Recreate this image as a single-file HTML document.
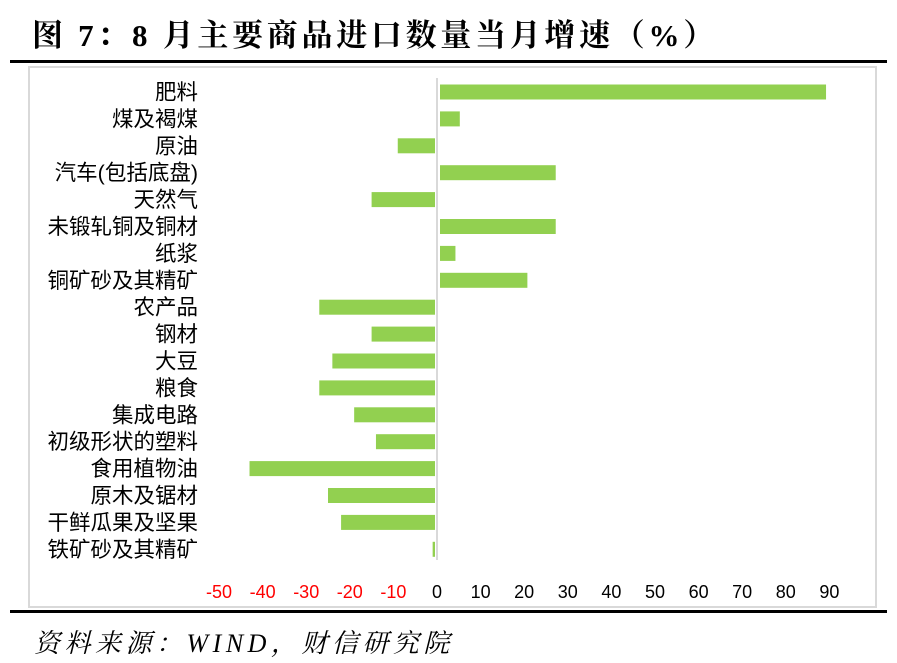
<!DOCTYPE html>
<html><head><meta charset="utf-8"><style>
body{margin:0;background:#fff;width:897px;height:663px;overflow:hidden;position:relative;font-family:"Liberation Sans","Noto Sans CJK SC",sans-serif}
#title{position:absolute;left:32px;top:10px;font:bold 31px "Liberation Serif","Noto Serif CJK SC",serif;letter-spacing:3.7px}
.rule{position:absolute;left:10px;width:877px;height:3px;background:#000}
#src{position:absolute;left:34px;top:623px;font:italic 26px "Liberation Serif","Noto Serif CJK SC",serif;letter-spacing:4.5px}
</style></head><body>
<div id="title">图 7：8 月主要商品进口数量当月增速（%）</div>
<div class="rule" style="top:60px"></div>
<div class="rule" style="top:610px"></div>
<div id="src">资料来源：WIND，财信研究院</div>
<svg id="chart" width="897" height="663" style="position:absolute;left:0;top:0">
<rect x="29" y="67" width="847" height="540" fill="none" stroke="#d9d9d9" stroke-width="2"/>
</svg>
<script>
const categories=["肥料","煤及褐煤","原油","汽车(包括底盘)","天然气","未锻轧铜及铜材","纸浆","铜矿砂及其精矿","农产品","钢材","大豆","粮食","集成电路","初级形状的塑料","食用植物油","原木及锯材","干鲜瓜果及坚果","铁矿砂及其精矿"];
const values=[89,5,-9,27,-15,27,4,20.5,-27,-15,-24,-27,-19,-14,-43,-25,-22,-1];
const ticks=[-50,-40,-30,-20,-10,0,10,20,30,40,50,60,70,80,90];
const svg=document.getElementById('chart');const NS='http://www.w3.org/2000/svg';
const x=v=>437+v*4.36;
const y=i=>92+i*26.9;
function mk(t,a){const e=document.createElementNS(NS,t);for(const k in a)e.setAttribute(k,a[k]);svg.appendChild(e);return e;}
const ax=mk('line',{x1:x(0),x2:x(0),y1:78,y2:560,stroke:'#d9d9d9','stroke-width':2});


categories.forEach((c,i)=>{
 const v=values[i];
 const r=mk('rect',{x:Math.min(x(0)+(v>=0?3:-1),x(v)),y:y(i)-7.5,width:Math.abs(x(v)-x(0))-2,height:15,fill:'#92d050'});
 
 
 const t=mk('text',{x:198,y:y(i)+7.5,'text-anchor':'end','font-size':21.5,fill:'#000'});t.textContent=c;
 
 
});
ticks.forEach(v=>{
 const t=mk('text',{x:x(v),y:598,'text-anchor':'middle','font-size':18,fill:v<0?'#ff0000':'#000'});t.textContent=v;
 
 
});
</script>
</body></html>
